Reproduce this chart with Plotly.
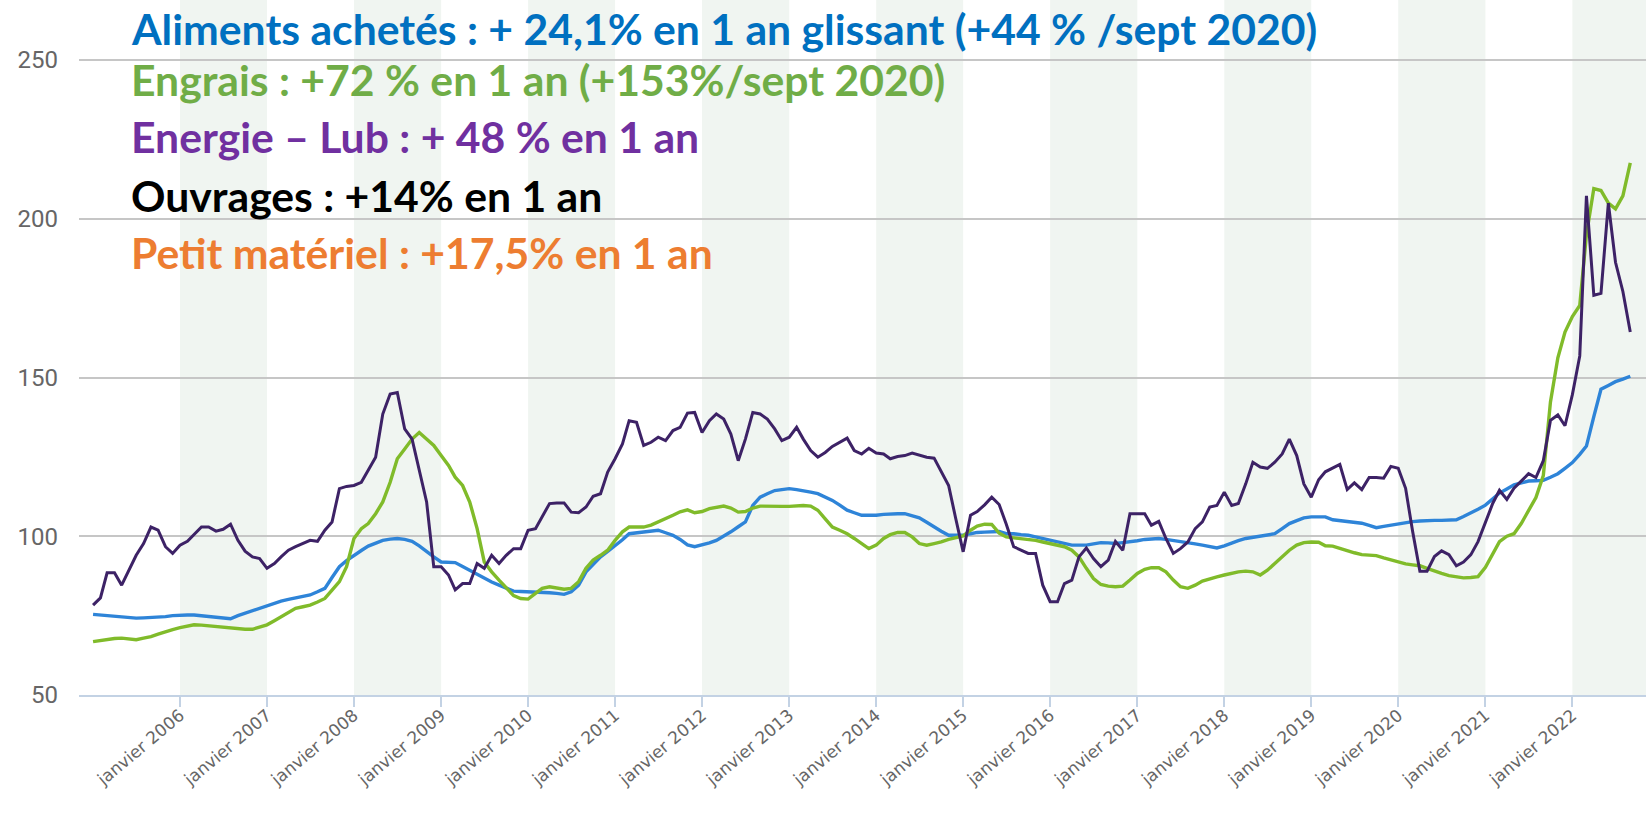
import plotly.graph_objects as go
import pandas as pd

# ---------------- data (monthly, Jan 2005 -> Sep 2022) ----------------
START_MONTH = "2005-01-01"

aliments = [
    75.4, 75.2, 75.0, 74.7, 74.4, 74.3, 74.2, 74.3, 74.4, 74.5, 74.7, 75.0,
    75.2, 75.2, 75.2, 75.0, 74.7, 74.5, 74.2, 74.0, 75.0, 75.8, 76.6, 77.3,
    78.1, 78.8, 79.6, 80.1, 80.6, 81.0, 81.5, 82.5, 83.6, 87.0, 90.4, 92.3,
    94.0, 95.5, 96.9, 97.8, 98.7, 99.1, 99.3, 99.0, 98.4, 97.0, 95.1, 93.5,
    91.9, 91.8, 91.7, 90.5, 89.3, 88.0, 86.7, 85.6, 84.6, 83.6, 82.7, 82.6,
    82.5, 82.5, 82.5, 82.2, 82.0, 81.7, 82.5, 84.6, 88.8, 91.2, 93.5, 95.2,
    96.9, 98.9, 100.8, 101.1, 101.4, 101.7, 101.9, 101.1, 100.3, 99.0, 97.3, 96.7,
    97.2, 97.9, 98.7, 100.0, 101.4, 103.0, 104.5, 109.7, 112.3, 113.4, 114.4, 114.7,
    115.0, 114.7, 114.4, 113.9, 113.4, 112.4, 111.3, 109.8, 108.2, 107.4, 106.6, 106.6,
    106.6, 106.9, 107.1, 107.1, 107.1, 106.5, 105.8, 104.4, 102.9, 101.6, 100.3, 100.3,
    100.3, 100.8, 101.2, 101.3, 101.4, 101.5, 100.8, 100.8, 100.5, 100.3, 99.8, 99.3,
    98.9, 98.4, 97.8, 97.2, 97.2, 97.2, 97.6, 98.0, 97.9, 97.7, 98.0, 98.2,
    98.6, 99.0, 99.2, 99.3, 99.0, 98.7, 98.4, 98.0, 97.6, 97.2, 96.8, 96.3,
    97.0, 97.9, 98.6, 99.3, 99.7, 100.1, 100.5, 100.8, 102.4, 104.0, 104.9, 105.8,
    106.1, 106.2, 106.1, 105.2, 104.9, 104.6, 104.4, 104.1, 103.4, 102.7, 103.1, 103.5,
    103.8, 104.2, 104.6, 104.8, 105.0, 105.0, 105.0, 105.1, 105.2, 106.2, 107.3, 108.5,
    109.8, 111.7, 113.6, 114.9, 116.2, 116.8, 117.4, 117.5, 117.6, 118.6, 119.7, 121.4,
    123.2, 125.8, 128.4, 137.7, 146.3, 147.5, 148.7, 149.5, 150.4,
]

engrais = [
    66.8, 67.2, 67.6, 67.8, 67.9, 67.7, 67.4, 67.9, 68.4, 69.2, 70.0, 70.6,
    71.2, 71.7, 72.1, 72.0, 71.8, 71.5, 71.2, 71.0, 70.8, 70.7, 70.7, 71.3,
    72.1, 73.4, 74.7, 76.0, 77.3, 77.8, 78.3, 79.3, 80.4, 83.0, 85.7, 90.4,
    99.3, 102.4, 104.0, 107.1, 110.8, 117.0, 124.4, 127.5, 130.6, 132.7, 130.6, 128.6,
    125.4, 122.3, 118.6, 116.0, 110.8, 102.4, 91.9, 88.8, 86.2, 83.6, 81.3, 80.4,
    80.2, 82.0, 83.6, 84.1, 83.8, 83.3, 83.6, 85.7, 89.9, 92.5, 94.0, 95.6,
    98.7, 101.4, 102.9, 102.9, 102.9, 103.5, 104.5, 105.3, 106.6, 107.7, 108.3, 107.4,
    107.8, 108.7, 109.2, 109.5, 108.9, 107.6, 107.8, 108.9, 109.5, 109.4, 109.4, 109.4,
    109.4, 109.5, 109.7, 109.5, 108.2, 105.5, 102.9, 101.9, 100.8, 99.3, 97.7, 96.1,
    97.2, 99.3, 100.5, 101.2, 101.2, 99.8, 97.7, 97.2, 97.7, 98.2, 99.0, 99.5,
    100.1, 101.9, 103.2, 103.8, 103.7, 101.0, 99.8, 99.5, 99.3, 99.0, 98.7, 98.2,
    97.7, 97.2, 96.7, 95.6, 93.5, 89.9, 86.7, 84.8, 84.3, 84.1, 84.3, 86.2,
    88.3, 89.6, 90.1, 90.1, 88.8, 86.2, 84.1, 83.6, 84.6, 85.9, 86.7, 87.2,
    87.8, 88.3, 88.8, 89.0, 88.8, 87.8, 89.3, 91.4, 93.5, 95.6, 97.2, 98.0,
    98.2, 98.1, 97.0, 96.9, 96.2, 95.4, 94.8, 94.2, 94.0, 93.9, 93.2, 92.5,
    91.9, 91.3, 91.0, 90.7, 89.9, 89.0, 88.3, 87.6, 87.2, 86.9, 87.0, 87.3,
    90.2, 94.2, 98.3, 100.0, 100.8, 104.1, 108.1, 112.2, 119.1, 142.3, 156.2, 164.3,
    169.2, 172.7, 195.0, 209.5, 208.9, 204.9, 203.1, 207.2, 217.6,
]

energie = [
    78.3, 80.6, 88.5, 88.5, 84.6, 89.3, 94.0, 97.7, 102.9, 101.9, 96.7, 94.6,
    97.2, 98.4, 100.5, 102.9, 102.9, 101.6, 102.2, 103.8, 98.7, 95.3, 93.5, 93.0,
    89.9, 91.4, 93.5, 95.6, 96.7, 97.7, 98.7, 98.4, 101.9, 104.5, 115.0, 115.7,
    116.0, 117.0, 121.0, 124.9, 138.5, 144.8, 145.3, 133.8, 130.6, 121.2, 110.8, 90.4,
    90.4, 87.8, 83.1, 85.1, 85.1, 91.4, 89.9, 94.0, 91.4, 94.0, 96.1, 96.1,
    101.9, 102.4, 106.1, 110.3, 110.5, 110.5, 107.6, 107.4, 109.2, 112.6, 113.4, 120.2,
    124.4, 129.1, 136.4, 135.9, 128.6, 129.6, 131.2, 130.1, 133.3, 134.3, 138.8, 139.0,
    132.7, 136.4, 138.5, 136.9, 132.2, 123.8, 130.6, 139.0, 138.5, 136.9, 133.8, 130.1,
    131.2, 134.3, 130.6, 127.0, 124.9, 126.4, 128.3, 129.6, 130.9, 127.0, 125.9, 127.7,
    126.2, 125.9, 124.4, 125.1, 125.4, 126.2, 125.6, 124.9, 124.6, 120.2, 116.0, 105.5,
    95.1, 106.6, 107.8, 109.9, 112.3, 110.0, 103.8, 96.7, 95.6, 94.6, 94.6, 84.6,
    79.4, 79.4, 85.1, 86.2, 93.5, 96.3, 93.0, 90.4, 92.5, 98.4, 95.6, 107.1,
    107.1, 107.1, 103.5, 104.7, 99.3, 94.6, 96.1, 98.2, 102.4, 104.5, 109.2, 109.7,
    113.9, 109.7, 110.3, 116.5, 123.3, 121.8, 121.4, 123.3, 125.9, 130.6, 125.4, 116.5,
    112.3, 117.8, 120.3, 121.4, 122.6, 114.7, 116.8, 114.7, 118.5, 118.5, 118.3, 122.0,
    121.4, 115.1, 101.7, 89.0, 89.0, 93.6, 95.4, 94.2, 90.7, 91.9, 94.2, 98.3,
    104.1, 110.4, 114.5, 111.6, 115.1, 117.4, 119.7, 118.5, 123.8, 136.5, 138.2, 134.8,
    144.6, 156.8, 207.2, 175.9, 176.5, 204.9, 186.3, 177.1, 164.3,
]

tick_years = list(range(2006, 2023))
tick_labels = [f"janvier {y}" for y in tick_years]
shaded_years = list(range(2006, 2023, 2))
y_ticks = [50, 100, 150, 200, 250]

headline_texts = [
    "Aliments achetés : + 24,1% en 1 an glissant (+44 % /sept 2020)",
    "Engrais : +72 % en 1 an (+153%/sept 2020)",
    "Energie – Lub : + 48 % en 1 an",
    "Ouvrages : +14% en 1 an",
    "Petit matériel : +17,5% en 1 an",
]
headline_colors = ["#0070C0", "#70AD47", "#7030A0", "#000000", "#ED7D31"]

# ---------------- figure ----------------
dates = pd.date_range(START_MONTH, periods=len(energie), freq="MS")
X_START, X_END = "2004-11-03", "2022-11-06"

fig = go.Figure()
fig.add_trace(go.Scatter(x=dates, y=aliments, mode="lines", name="Aliments achetés",
                         line=dict(color="#2e84d8", width=3.4)))
fig.add_trace(go.Scatter(x=dates, y=engrais, mode="lines", name="Engrais",
                         line=dict(color="#80bb2a", width=3.4)))
fig.add_trace(go.Scatter(x=dates, y=energie, mode="lines", name="Energie – Lub",
                         line=dict(color="#3d2266", width=3)))

shapes = []
for yr in shaded_years:
    x0 = f"{yr}-01-01"
    x1 = f"{yr + 1}-01-01" if yr + 1 <= 2022 else X_END
    shapes.append(dict(type="rect", xref="x", yref="paper", x0=x0, x1=x1, y0=0, y1=1,
                       fillcolor="#f0f5f1", line=dict(width=0), layer="below"))

annotations = []
ys = [0.959, 0.886, 0.803, 0.719, 0.637]
for txt, col, yy in zip(headline_texts, headline_colors, ys):
    annotations.append(dict(text=f"<b>{txt}</b>", xref="paper", yref="paper",
                            x=0.0325, y=yy, xanchor="left", yanchor="middle",
                            showarrow=False, borderpad=0,
                            font=dict(family="Lato", size=42.7, color=col)))

fig.update_layout(
    width=1646, height=819,
    margin=dict(l=79, r=0, t=0, b=124),
    paper_bgcolor="white", plot_bgcolor="white",
    showlegend=False,
    shapes=shapes,
    annotations=annotations,
    xaxis=dict(
        type="date", range=[X_START, X_END],
        tickvals=[f"{y}-01-01" for y in tick_years], ticktext=tick_labels,
        tickangle=-40, tickfont=dict(family="DejaVu Sans", size=17, color="#666666"),
        showgrid=False, showline=True, linecolor="#c3d2e4", linewidth=2,
        ticks="outside", ticklen=10, tickcolor="#c3d2e4", tickwidth=1.5,
        zeroline=False, ticklabelstandoff=-8,
    ),
    yaxis=dict(
        range=[50, 268.9], tickvals=y_ticks,
        tickfont=dict(family="Roboto", size=24, color="#666666"),
        showgrid=True, gridcolor="#c6c6c6", gridwidth=2,
        zeroline=False, showline=False, ticks="", ticklabelstandoff=20,
    ),
)

fig.write_html("out.html",
               config={"displayModeBar": False},
               post_script="document.body.style.margin='0';document.body.style.overflow='hidden';")
